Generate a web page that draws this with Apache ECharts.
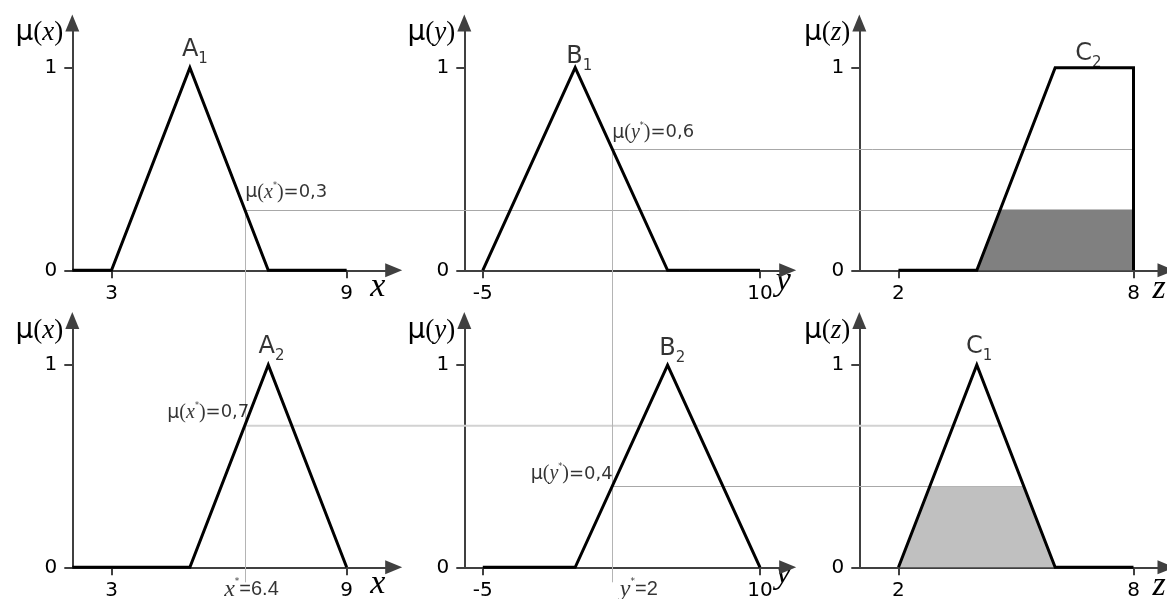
<!DOCTYPE html>
<html>
<head>
<meta charset="utf-8">
<script src="https://cdn.jsdelivr.net/npm/echarts@6/dist/echarts.min.js"></script>
<style>
html, body { margin: 0; padding: 0; background: #fff; }
#chart { width: 1167px; height: 599px; }
</style>
</head>
<body>
<div id="chart"></div>
<script>
// Membership functions as [value, degree] breakpoints
const A1 = [[2, 0], [3, 0], [5, 1], [7, 0], [9, 0]];
const B1 = [[-5, 0], [0, 1], [5, 0], [10, 0]];
const C2 = [[2, 0], [4, 0], [6, 1], [8, 1], [8, 0]];
const A2 = [[2, 0], [5, 0], [7, 1], [9, 0]];
const B2 = [[-5, 0], [0, 0], [5, 1], [10, 0]];
const C1 = [[2, 0], [4, 1], [6, 0], [8, 0]];

// Crisp inputs and their degrees of membership
const xStar = 6.4;
const yStar = 2;
const muA1 = 0.3;
const muB1 = 0.6;
const muA2 = 0.7;
const muB2 = 0.4;

// Tick labels
const xTicks = [3, 9];
const yTicks = [-5, 10];
const zTicks = [2, 8];
const muTicks = [0, 1];

// Rule strengths (min of the antecedents)
const rule1 = Math.min(muA1, muB1); // -> C2
const rule2 = Math.min(muA2, muB2); // -> C1

// Cut a membership function at a given level: min(mu, level)
function cutAt(points, level) {
  const out = [];
  for (let i = 0; i < points.length; i++) {
    const [x, y] = points[i];
    if (i > 0) {
      const [px, py] = points[i - 1];
      if ((py - level) * (y - level) < 0) {
        const t = (level - py) / (y - py);
        out.push([px + t * (x - px), level]);
      }
    }
    out.push([x, Math.min(y, level)]);
  }
  return out;
}

// Right-most value where the function reaches a given level
function lastCrossing(points, level) {
  let xr = null;
  for (let i = 1; i < points.length; i++) {
    const [px, py] = points[i - 1];
    const [x, y] = points[i];
    if (py !== y && (py - level) * (y - level) <= 0) {
      xr = px + (level - py) / (y - py) * (x - px);
    }
  }
  return xr;
}

const dec = v => String(v).replace('.', ',');

const SANS = 'DejaVu Sans';
const ARIAL = 'Liberation Sans';
const SERIF = 'Liberation Serif';
const AXIS = '#404040';
const GUIDE = '#a8a8a8';

const layout = [
  { left: 72.3,  top: 23.1,  width: 321.4, height: 247.2, min: 2,  max: 10.2, nameGap: -16,  nameLH: 34 },
  { left: 464.3, top: 23.1,  width: 323.4, height: 247.2, min: -6, max: 11.5, nameGap: -4.5, nameLH: 21 },
  { left: 859.3, top: 23.1,  width: 306.7, height: 247.2, min: 1,  max: 8.83, nameGap: -7,   nameLH: 37 },
  { left: 72.3,  top: 320.5, width: 321.4, height: 246.8, min: 2,  max: 10.2, nameGap: -16,  nameLH: 34 },
  { left: 464.3, top: 320.5, width: 323.4, height: 246.8, min: -6, max: 11.5, nameGap: -4.5, nameLH: 14 },
  { left: 859.3, top: 320.5, width: 306.7, height: 246.8, min: 1,  max: 8.83, nameGap: -7,   nameLH: 37 }
];

const panels = [
  { fn: A1, v: 'x', ticks: xTicks, set: ['A', '1'], peak: [5, 1], setOff: [5, -5.8] },
  { fn: B1, v: 'y', ticks: yTicks, set: ['B', '1'], peak: [0, 1], setOff: [4, 0.9] },
  { fn: C2, v: 'z', ticks: zTicks, set: ['C', '2'], peak: [7, 1], setOff: [-6, -2.4], cut: rule1, fill: '#808080' },
  { fn: A2, v: 'x', ticks: xTicks, set: ['A', '2'], peak: [7, 1], setOff: [3.3, -6.4] },
  { fn: B2, v: 'y', ticks: yTicks, set: ['B', '2'], peak: [5, 1], setOff: [4.6, -4.7] },
  { fn: C1, v: 'z', ticks: zTicks, set: ['C', '1'], peak: [4, 1], setOff: [2.3, -6.4], cut: rule2, fill: '#c0c0c0' }
];

// Degree labels and crisp input labels, keyed by panel
const notes = {
  0: [{ at: [xStar, muA1], text: '{u|μ}{p|(}{v|x}{s|*}{p|)}{n|=' + dec(muA1) + '}', side: 'right', off: [0.5, -17] }],
  1: [{ at: [yStar, muB1], text: '{u|μ}{p|(}{v|y}{s|*}{p|)}{n|=' + dec(muB1) + '}', side: 'right', off: [0, -16] }],
  3: [
    { at: [xStar, muA2], text: '{u|μ}{p|(}{v|x}{s|*}{p|)}{n|=' + dec(muA2) + '}', side: 'left', off: [4.5, -13] },
    { at: [xStar, 0], text: '{v|x}{s|*}{n|=' + xStar + '}', side: 'bottom', off: [-20.6, 9.4], crisp: true }
  ],
  4: [
    { at: [yStar, muB2], text: '{u|μ}{p|(}{v|y}{s|*}{p|)}{n|=' + dec(muB2) + '}', side: 'left', off: [0.5, -12.5] },
    { at: [yStar, 0], text: '{v|y}{s|*}{n|=' + yStar + '}', side: 'bottom', off: [7.7, 9.4], crisp: true }
  ]
};

const noteRich = {
  u: { fontFamily: SANS, fontSize: 19, lineHeight: 22, color: '#000' },
  p: { fontFamily: SERIF, fontSize: 20, lineHeight: 22, color: '#000' },
  v: { fontFamily: SERIF, fontStyle: 'italic', fontSize: 20, lineHeight: 22, color: '#000' },
  s: { fontFamily: SANS, fontSize: 8, lineHeight: 11, verticalAlign: 'top', color: '#000' },
  n: { fontFamily: SANS, fontSize: 18, lineHeight: 22, color: '#000' }
};
const crispRich = {
  v: { fontFamily: SERIF, fontStyle: 'italic', fontSize: 24, lineHeight: 26, color: '#000' },
  s: { fontFamily: SANS, fontSize: 9, lineHeight: 12, verticalAlign: 'top', color: '#000' },
  n: { fontFamily: ARIAL, fontSize: 20, lineHeight: 26, color: '#000' }
};
const setRich = {
  m: { fontFamily: SANS, fontSize: 24, lineHeight: 24, verticalAlign: 'top', color: '#000' },
  s: { fontFamily: SANS, fontSize: 15, lineHeight: 15, padding: [14, 0, 0, 0], verticalAlign: 'top', color: '#000' }
};
const nameRich = {
  u: { fontFamily: SANS, fontSize: 28, lineHeight: 30, color: '#000' },
  p: { fontFamily: SERIF, fontSize: 27, lineHeight: 30, color: '#000' },
  v: { fontFamily: SERIF, fontStyle: 'italic', fontSize: 27, lineHeight: 30, color: '#000' }
};

const grid = [], xAxis = [], yAxis = [], series = [];

panels.forEach((p, i) => {
  const L = layout[i];
  grid.push({ left: L.left, top: L.top, width: L.width, height: L.height, outerBoundsMode: 'none', containLabel: false });

  xAxis.push({
    type: 'value', gridIndex: i, min: L.min, max: L.max,
    name: p.v, nameLocation: 'end', nameGap: L.nameGap, nameMoveOverlap: false,
    nameTextStyle: { fontFamily: SERIF, fontStyle: 'italic', fontSize: 34, lineHeight: L.nameLH,
      align: 'center', verticalAlign: 'top', color: '#000' },
    axisLine: { show: true, onZero: false, symbol: ['none', 'triangle'], symbolSize: [14, 17],
      lineStyle: { color: AXIS, width: 2 } },
    axisTick: { show: true, customValues: p.ticks, length: 8, lineStyle: { color: AXIS, width: 2 } },
    axisLabel: { show: true, customValues: p.ticks, margin: 13, fontFamily: SANS, fontSize: 20, color: '#000' },
    splitLine: { show: false }
  });

  yAxis.push({
    type: 'value', gridIndex: i, min: 0, max: 1.22,
    name: '{u|μ}{p|(}{v|' + p.v + '}{p|)}', nameLocation: 'end', nameGap: -10, nameMoveOverlap: false,
    nameTextStyle: { align: 'right', verticalAlign: 'middle', padding: [0, 9, 0, 0], rich: nameRich },
    axisLine: { show: true, onZero: false, symbol: ['none', 'triangle'], symbolSize: [14, 17],
      lineStyle: { color: AXIS, width: 2 } },
    axisTick: { show: true, customValues: muTicks, length: 8, lineStyle: { color: AXIS, width: 2 } },
    axisLabel: { show: true, customValues: muTicks, margin: 15, fontFamily: SANS, fontSize: 20, color: '#000' },
    splitLine: { show: false }
  });

  if (p.cut != null) {
    series.push({
      type: 'line', xAxisIndex: i, yAxisIndex: i, z: 2, clip: false,
      data: cutAt(p.fn, p.cut), symbol: 'none', silent: true,
      lineStyle: { width: 0 }, areaStyle: { color: p.fill, opacity: 1 }
    });
  }

  series.push({
    type: 'line', xAxisIndex: i, yAxisIndex: i, z: 3, clip: false,
    data: p.fn, symbol: 'none', silent: true,
    lineStyle: { color: '#000', width: 3, join: 'miter', cap: 'butt' }
  });

  const labels = [{
    value: p.peak,
    label: { show: true, position: 'top', distance: 0, offset: p.setOff, color: '#000',
      formatter: '{m|' + p.set[0] + '}{s|' + p.set[1] + '}', rich: setRich }
  }];
  (notes[i] || []).forEach(n => {
    labels.push({
      value: n.at,
      label: { show: true, position: n.side, distance: 0, offset: n.off, color: '#000',
        align: n.crisp ? 'left' : (n.side === 'right' ? 'left' : 'right'),
        formatter: n.text, rich: n.crisp ? crispRich : noteRich }
    });
  });
  series.push({
    type: 'scatter', xAxisIndex: i, yAxisIndex: i, z: 4, symbolSize: 0, silent: true,
    data: labels
  });
});

const chart = echarts.init(document.getElementById('chart'), null, { renderer: 'canvas' });
chart.setOption({ animation: false, backgroundColor: '#fff', grid, xAxis, yAxis, series });

// Guide lines that run across panels, positioned through the axes' scales
const toPx = (i, pt) => chart.convertToPixel({ xAxisIndex: i, yAxisIndex: i }, pt);
const crisp = v => Math.round(v) + 0.5;
const guides = [
  { a: toPx(0, [xStar, muA1]), b: toPx(2, [lastCrossing(C2, muA1), muA1]), color: GUIDE, w: 1 },
  { a: toPx(1, [yStar, muB1]), b: toPx(2, [lastCrossing(C2, muB1), muB1]), color: GUIDE, w: 1 },
  { a: toPx(3, [xStar, muA2]), b: toPx(5, [lastCrossing(C1, muA2), muA2]), color: '#d2d2d2', w: 2 },
  { a: toPx(4, [yStar, muB2]), b: toPx(5, [lastCrossing(C1, muB2), muB2]), color: GUIDE, w: 1 }
];
const xBase = toPx(3, [xStar, 0]);
const yBase = toPx(4, [yStar, 0]);
const graphic = guides.map(g => ({
  type: 'line', silent: true, z: 1,
  shape: { x1: g.a[0], y1: g.w === 1 ? crisp(g.a[1]) : g.a[1], x2: g.b[0], y2: g.w === 1 ? crisp(g.b[1]) : g.b[1] },
  style: { stroke: g.color, lineWidth: g.w }
}));
graphic.push({
  type: 'line', silent: true, z: 1,
  shape: { x1: crisp(guides[0].a[0]), y1: guides[0].a[1], x2: crisp(xBase[0]), y2: xBase[1] + 15 },
  style: { stroke: '#b4b4b4', lineWidth: 1 }
});
graphic.push({
  type: 'line', silent: true, z: 1,
  shape: { x1: crisp(guides[1].a[0]), y1: guides[1].a[1], x2: crisp(yBase[0]), y2: yBase[1] + 15 },
  style: { stroke: '#b4b4b4', lineWidth: 1 }
});
chart.setOption({ graphic });
</script>
</body>
</html>
